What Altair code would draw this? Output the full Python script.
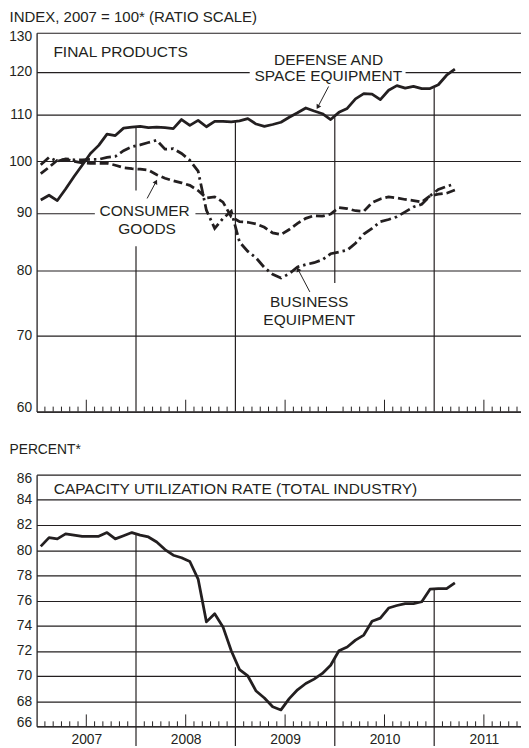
import altair as alt
import pandas as pd

# ---------------- data ----------------
start_month = "2007-01"
n_months = 51  # Jan 2007 .. Mar 2011

defense = [92.4, 93.3, 92.3, 94.5, 96.9, 99.2, 101.6, 103.3, 105.7, 105.4, 107.0, 107.2,
           107.4, 107.1, 107.2, 107.1, 106.9, 108.9, 107.6, 108.7, 107.3, 108.5, 108.5, 108.4,
           108.6, 109.1, 107.9, 107.4, 107.8, 108.3, 109.4, 110.4, 111.5, 110.8, 110.2, 108.9,
           110.5, 111.4, 113.6, 114.8, 114.7, 113.4, 115.6, 116.7, 116.1, 116.5, 116.0, 116.0,
           116.9, 119.2, 120.7]
consumer = [97.5, 98.8, 100.2, 100.4, 100.0, 99.7, 99.6, 99.6, 99.6, 99.2, 98.7, 98.5,
            98.4, 98.2, 97.3, 96.6, 96.1, 95.7, 95.2, 94.2, 92.8, 93.0, 92.0, 89.3,
            88.4, 88.3, 88.0, 87.4, 86.4, 86.1, 87.0, 88.1, 89.0, 89.5, 89.4, 89.8,
            91.0, 90.8, 90.4, 90.3, 91.9, 92.6, 93.0, 92.8, 92.5, 92.3, 92.0, 93.2,
            93.5, 93.7, 94.3]
business = [99.3, 100.8, 100.0, 100.5, 100.3, 100.3, 100.4, 100.4, 100.8, 101.0, 102.2, 103.0,
            103.4, 103.9, 104.4, 102.5, 102.6, 101.6, 100.2, 98.0, 90.5, 87.2, 89.0, 90.3,
            84.8, 83.2, 82.1, 80.5, 79.4, 78.8, 79.5, 80.6, 81.0, 81.3, 81.8, 82.8,
            83.1, 83.4, 84.6, 86.2, 87.2, 88.4, 88.8, 89.3, 90.2, 91.1, 91.6, 93.2,
            94.4, 95.0, 95.5]
capacity = [80.3, 81.0, 80.9, 81.3, 81.2, 81.1, 81.1, 81.1, 81.4, 80.9, 81.15, 81.4,
            81.2, 81.05, 80.65, 80.05, 79.6, 79.4, 79.1, 77.7, 74.3, 74.95, 73.9, 72.0,
            70.5, 70.0, 68.8, 68.25, 67.55, 67.3, 68.2, 68.9, 69.4, 69.75, 70.2, 70.85,
            72.0, 72.3, 72.85, 73.25, 74.35, 74.6, 75.4, 75.6, 75.75, 75.75, 75.9, 76.9,
            76.95, 76.95, 77.4]

top_ticks = [60, 70, 80, 90, 100, 110, 120, 130]
bottom_ticks = [66, 68, 70, 72, 74, 76, 78, 80, 82, 84, 86]
year_labels = [2007, 2008, 2009, 2010, 2011]
year_lines = [2008, 2009, 2010, 2011]
drop_top_from = [107.3, 108.4, 109.4, 116.2]   # top panel: up to defense line
drop_top_to = [60, 60, 78, 60]
drop_cap_from = [81.3, 70.7, 71.4, 76.9]        # bottom panel: up to capacity line

# ---------------- layout constants ----------------
W = 491
PX_PER_YEAR = 100.75
X0, X1 = 2007, 2007 + W / PX_PER_YEAR
H1, H2 = 384, 255
ink = "#231f20"
font = "Liberation Sans"
label_size = 15.7

months = pd.period_range(start_month, periods=n_months, freq="M")
t_mid = [p.year + (p.month - 1 + 0.5) / 12 for p in months]

series_df = pd.DataFrame({
    "t": t_mid * 3,
    "v": defense + consumer + business,
    "series": ["defense"] * n_months + ["consumer"] * n_months + ["business"] * n_months,
})
cap_df = pd.DataFrame({"t": t_mid, "v": capacity})

k_all = [k for k in range(1, 59) if k % 12 != 0]
tick_df = pd.DataFrame({"t": [2007 + k / 12 for k in k_all],
                        "mid": [k % 12 == 6 for k in k_all]})

drop_top_df = pd.DataFrame({"t": year_lines, "v": drop_top_from, "v2": drop_top_to})
drop_cap_df = pd.DataFrame({"t": year_lines, "v": drop_cap_from})

gap_df = pd.DataFrame({"t": [2009.144, 2007.586], "t2": [2010.712, 2008.598],
                       "v": [117.0, 84.1], "v2": [124.5, 94.2]})

top_text = pd.DataFrame({
    "t": [2009.938, 2009.935, 2008.087, 2008.112, 2009.742, 2009.744],
    "v": [121.8, 117.9, 89.4, 86.2, 74.2, 71.6],
    "label": ["DEFENSE AND", "SPACE EQUIPMENT", "CONSUMER", "GOODS", "BUSINESS", "EQUIPMENT"],
})
top_title = pd.DataFrame({"t": [2007.169], "v": [123.7], "label": ["FINAL PRODUCTS"]})
cap_title = pd.DataFrame({"t": [2007.172], "v": [84.45],
                          "label": ["CAPACITY UTILIZATION RATE (TOTAL INDUSTRY)"]})

arrow_df = pd.DataFrame({
    "t": [2009.938, 2008.112, 2009.749],
    "v": [116.5, 92.7, 76.6],
    "t2": [2009.829, 2008.201, 2009.630],
    "v2": [111.7, 95.9, 80.2],
    "angle": [209.7, 27.9, 333.4],
})
head_df = arrow_df[["t2", "v2", "angle"]].rename(columns={"t2": "t", "v2": "v"})

# ---------------- encodings ----------------
xscale = alt.Scale(domain=[X0, X1], nice=False, zero=False)

x_top = alt.X("t:Q", scale=xscale,
              axis=alt.Axis(labels=False, ticks=False, grid=False, domain=True, title=None))
y_top = alt.Y("v:Q", scale=alt.Scale(type="log", domain=[60, 130], nice=False),
              axis=alt.Axis(values=top_ticks, grid=True, ticks=False, labelPadding=5,
                            labelOverlap=False, labelFlush=True, labelFlushOffset=3,
                            title="INDEX, 2007 = 100* (RATIO SCALE)",
                            titleAngle=0, titleX=-28, titleY=-11, titleAlign="left",
                            titleBaseline="alphabetic", titleFontSize=15.2))

x_bot = alt.X("t:Q", scale=xscale,
              axis=alt.Axis(values=[y + 0.5 for y in year_labels],
                            labelExpr="'' + floor(datum.value)", ticks=False, grid=False,
                            labelPadding=6, labelOverlap=False, labelFlush=False,
                            domain=True, title=None))
y_bot = alt.Y("v:Q", scale=alt.Scale(domain=[66, 86], nice=False, zero=False),
              axis=alt.Axis(values=bottom_ticks, grid=True, ticks=False, labelPadding=5,
                            labelOverlap=False, labelFlush=True, labelFlushOffset=3,
                            title="PERCENT*",
                            titleAngle=0, titleX=-28, titleY=-21, titleAlign="left",
                            titleBaseline="alphabetic", titleFontSize=14))

line_w = 2.8


def panel_ticks(x_enc, h):
    small = alt.Chart(tick_df).transform_filter("!datum.mid").mark_rule(
        color=ink, strokeWidth=1).encode(x=x_enc, y=alt.value(h), y2=alt.value(h - 5))
    big = alt.Chart(tick_df).transform_filter("datum.mid").mark_rule(
        color=ink, strokeWidth=1).encode(x=x_enc, y=alt.value(h), y2=alt.value(h - 12))
    return [small, big]


# ---------------- top panel ----------------
drops_top = alt.Chart(drop_top_df).mark_rule(color=ink, strokeWidth=1.2).encode(
    x=x_top, y=y_top, y2=alt.Y2("v2:Q"))
gaps = alt.Chart(gap_df).mark_rect(color="white").encode(
    x=x_top, x2=alt.X2("t2:Q"), y=y_top, y2=alt.Y2("v2:Q"))
base = alt.Chart(series_df)
l_def = base.transform_filter("datum.series == 'defense'").mark_line(
    color=ink, strokeWidth=line_w, strokeJoin="round").encode(x=x_top, y=y_top)
l_con = base.transform_filter("datum.series == 'consumer'").mark_line(
    color=ink, strokeWidth=line_w, strokeDash=[9, 4]).encode(x=x_top, y=y_top)
l_bus = base.transform_filter("datum.series == 'business'").mark_line(
    color=ink, strokeWidth=line_w, strokeDash=[11, 4, 2.5, 4]).encode(x=x_top, y=y_top)
txt_top = alt.Chart(top_text).mark_text(font=font, fontSize=label_size, color=ink,
                                        align="center", baseline="alphabetic").encode(
    x=x_top, y=y_top, text="label:N")
ttl_top = alt.Chart(top_title).mark_text(font=font, fontSize=label_size, color=ink,
                                         align="left", baseline="alphabetic").encode(
    x=x_top, y=y_top, text="label:N")
arrow_lines = alt.Chart(arrow_df).mark_rule(color=ink, strokeWidth=1).encode(
    x=x_top, y=y_top, x2=alt.X2("t2:Q"), y2=alt.Y2("v2:Q"))
arrow_heads = alt.Chart(head_df).mark_point(shape="triangle-up", filled=True, color=ink,
                                            size=28, opacity=1).encode(
    x=x_top, y=y_top, angle=alt.Angle("angle:Q", scale=None))

top = alt.layer(drops_top, *panel_ticks(x_top, H1), gaps, l_def, l_con, l_bus,
                txt_top, ttl_top, arrow_lines, arrow_heads).properties(width=W, height=H1)

# ---------------- bottom panel ----------------
drops_cap = alt.Chart(drop_cap_df).mark_rule(color=ink, strokeWidth=1.2).encode(
    x=x_bot, y=y_bot, y2=alt.value(H2 + 20))
l_cap = alt.Chart(cap_df).mark_line(color=ink, strokeWidth=line_w, strokeJoin="round").encode(
    x=x_bot, y=y_bot)
ttl_cap = alt.Chart(cap_title).mark_text(font=font, fontSize=label_size, color=ink,
                                         align="left", baseline="alphabetic").encode(
    x=x_bot, y=y_bot, text="label:N")

bottom = alt.layer(drops_cap, *panel_ticks(x_bot, H2), l_cap, ttl_cap).properties(
    width=W, height=H2)

chart = alt.vconcat(top, bottom, spacing=29).properties(
    padding={"left": 0, "top": -3, "right": 0, "bottom": 0},
    background="white",
).configure_view(stroke=None).configure_axis(
    domainColor=ink, domainWidth=1.3, gridColor=ink, gridWidth=1.2, gridOpacity=1,
    labelColor=ink, labelFont=font, labelFontSize=14, titleFont=font,
    titleFontWeight="normal", titleColor=ink,
)

chart.save("out.html", embed_options={"renderer": "svg", "actions": False})
